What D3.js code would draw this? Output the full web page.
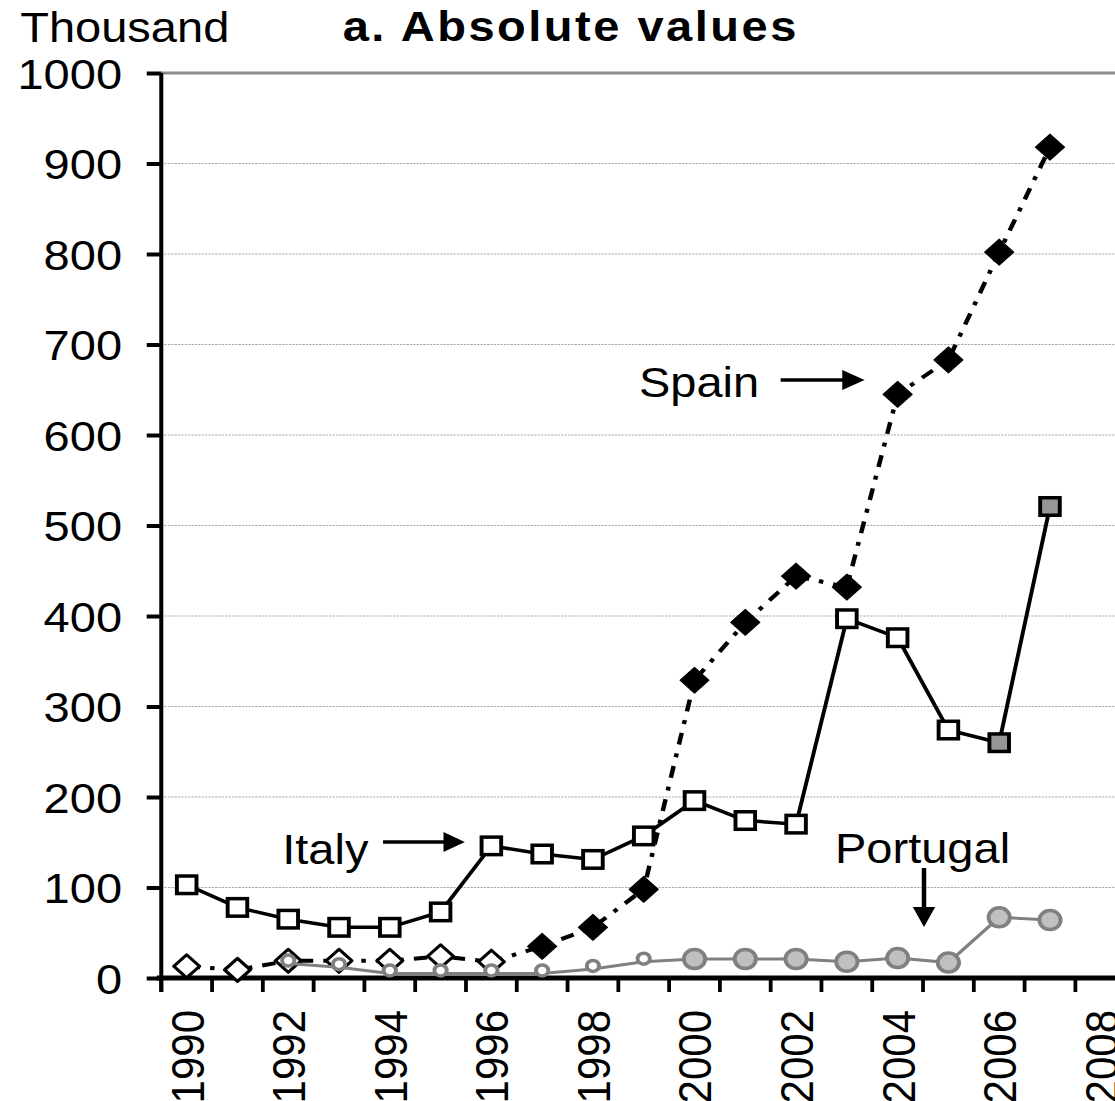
<!DOCTYPE html>
<html>
<head>
<meta charset="utf-8">
<script src="https://cdn.jsdelivr.net/npm/d3@7"></script>
<style>
  html, body { margin: 0; padding: 0; background: #fff; }
  svg { display: block; font-family: "Liberation Sans", Arial, Helvetica, sans-serif; }
</style>
</head>
<body>
<svg id="chart" width="1115" height="1101"></svg>
<script>
// ---- data ----
const categories = [1990,1991,1992,1993,1994,1995,1996,1997,1998,1999,2000,2001,2002,2003,2004,2005,2006,2007,2008];
const years = [1990,1991,1992,1993,1994,1995,1996,1997,1998,1999,2000,2001,2002,2003,2004,2005,2006,2007];
const italy = [103,78,65,56,56,73,146,137,131,157,196,174,170,397,376,274,260,521];
const spain = [13,9,19,19,19,24,18,35,56,98,329,393,444,432,645,683,802,918];
const portugal = [null,null,16,12,5,5,5,5,10,18,21,21,21,18,22,17,67,64];
const yTicks = [0,100,200,300,400,500,600,700,800,900,1000];
const xTickLabels = [1990,1992,1994,1996,1998,2000,2002,2004,2006,2008];
const seriesNames = ["Spain","Italy","Portugal"];
const titleText = "a. Absolute values";
const unitText = "Thousand";

// ---- layout ----
const SX = 1.12; // horizontal stretch of the original
const svg = d3.select("#chart");
const g = svg.append("g").attr("transform", `scale(${SX},1)`);

const x = d3.scaleBand().domain(categories).range([144, 1005.5]).paddingInner(0).paddingOuter(0);
const cx = yr => x(yr) + x.bandwidth() / 2;
const y = d3.scaleLinear().domain([0, 1000]).range([978, 73]);

// gridlines
g.append("g").selectAll("line").data(yTicks.filter(v => v > 0 && v < 1000)).join("line")
  .attr("x1", 144).attr("x2", 1005.5)
  .attr("y1", d => y(d)).attr("y2", d => y(d))
  .attr("stroke", "#a8a8a8").attr("stroke-width", 1).attr("stroke-dasharray", "2,1");
g.append("line").attr("x1", 144).attr("x2", 1005.5).attr("y1", y(1000)).attr("y2", y(1000))
  .attr("stroke", "#8c8c8c").attr("stroke-width", 3);

// y axis
const yAxis = d3.axisLeft(y).tickValues(yTicks).tickSize(13).tickPadding(22).tickFormat(d3.format("d"));
const yg = g.append("g").attr("transform", "translate(144,0)").call(yAxis);
yg.select(".domain").remove();
yg.selectAll(".tick line").attr("stroke", "#000").attr("stroke-width", 4);
yg.selectAll(".tick text").attr("font-size", 42).attr("fill", "#000")
  .attr("font-family", "'Liberation Sans', Arial, sans-serif").attr("dy", "0.36em");
g.append("line").attr("x1", 144).attr("x2", 144).attr("y1", 73).attr("y2", 992)
  .attr("stroke", "#000").attr("stroke-width", 3.6);

// x axis
g.append("line").attr("x1", 140).attr("x2", 1005.5).attr("y1", y(0)).attr("y2", y(0))
  .attr("stroke", "#000").attr("stroke-width", 5);
const boundaries = categories.map(c => x(c)).concat([x(categories[categories.length-1]) + x.bandwidth()]);
g.append("g").selectAll("line").data(boundaries).join("line")
  .attr("x1", d => d).attr("x2", d => d).attr("y1", y(0)).attr("y2", y(0) + 14)
  .attr("stroke", "#000").attr("stroke-width", 3.4);
g.append("g").selectAll("text").data(xTickLabels).join("text")
  .attr("transform", d => `translate(${cx(d)},1010) rotate(-90)`)
  .attr("text-anchor", "end").attr("dy", "0.36em")
  .attr("font-size", 42).attr("fill", "#000").text(d => d);

// ---- lines ----
const line = d3.line().defined(d => d[1] != null).x(d => cx(d[0])).y(d => y(d[1]));
const pts = arr => years.map((yr, i) => [yr, arr[i]]);

// Spain
g.append("path").datum(pts(spain)).attr("d", line).attr("fill", "none")
  .attr("stroke", "#000").attr("stroke-width", 4).attr("stroke-dasharray", "12,9,4,9");
// Italy
g.append("path").datum(pts(italy)).attr("d", line).attr("fill", "none")
  .attr("stroke", "#000").attr("stroke-width", 3.5);

// Spain markers
const diamond = (h) => `M0,${-h}L${h},0L0,${h}L${-h},0Z`;
g.append("g").selectAll("path").data(pts(spain)).join("path")
  .attr("transform", d => `translate(${cx(d[0])},${y(d[1])})`)
  .attr("d", (d, i) => i < 7 ? diamond(11.5) : diamond(13))
  .attr("fill", (d, i) => i < 7 ? "#fff" : "#000")
  .attr("stroke", "#000").attr("stroke-width", (d, i) => i < 7 ? 3 : 1)
  .attr("stroke-linejoin", "round");

// Italy markers
g.append("g").selectAll("rect").data(pts(italy)).join("rect")
  .attr("x", d => cx(d[0]) - 8.75).attr("y", d => y(d[1]) - 8.75)
  .attr("width", 17.5).attr("height", 17.5)
  .attr("fill", (d, i) => i >= 16 ? "#969696" : "#fff")
  .attr("stroke", "#000").attr("stroke-width", 3.5);

// Portugal
g.append("path").datum(pts(portugal)).attr("d", line).attr("fill", "none")
  .attr("stroke", "#808080").attr("stroke-width", 3);
g.append("g").selectAll("circle").data(pts(portugal).filter(d => d[1] != null)).join("circle")
  .attr("cx", d => cx(d[0])).attr("cy", d => y(d[1]) - (d[0] < 2000 ? 3 : 0))
  .attr("r", d => d[0] < 2000 ? 5.5 : 9.5)
  .attr("fill", d => d[0] < 2000 ? "#fff" : "#c0c0c0")
  .attr("stroke", "#808080").attr("stroke-width", 3.5);

// ---- annotations ----
const ann = g.append("g").attr("font-size", 42).attr("fill", "#000");
ann.append("text").attr("x", 570.5).attr("y", 397).text(seriesNames[0]);
ann.append("text").attr("x", 252).attr("y", 864).text(seriesNames[1]);
ann.append("text").attr("x", 745.5).attr("y", 863).text(seriesNames[2]);

function hArrow(x1, x2, yy, headLen, headHalf) {
  g.append("line").attr("x1", x1).attr("x2", x2 - headLen + 1).attr("y1", yy).attr("y2", yy)
    .attr("stroke", "#000").attr("stroke-width", 3.5);
  g.append("path").attr("d", `M${x2},${yy}L${x2 - headLen},${yy - headHalf}L${x2 - headLen},${yy + headHalf}Z`).attr("fill", "#000");
}
function vArrow(xx, y1, y2, headLen, headHalf) {
  g.append("line").attr("x1", xx).attr("x2", xx).attr("y1", y1).attr("y2", y2 - headLen + 1)
    .attr("stroke", "#000").attr("stroke-width", 4);
  g.append("path").attr("d", `M${xx},${y2}L${xx - headHalf},${y2 - headLen}L${xx + headHalf},${y2 - headLen}Z`).attr("fill", "#000");
}
hArrow(697, 772, 380, 20, 10);
hArrow(342, 415, 842, 19, 10);
vArrow(825, 868, 927, 20, 10);

// ---- titles ----
g.append("text").attr("x", 18).attr("y", 42).attr("font-size", 42).attr("fill", "#000").text(unitText);
g.append("text").attr("x", 306).attr("y", 41).attr("font-size", 42).attr("font-weight", "bold")
  .attr("textLength", 405).attr("lengthAdjust", "spacing").attr("fill", "#000").text(titleText);
</script>
</body>
</html>
